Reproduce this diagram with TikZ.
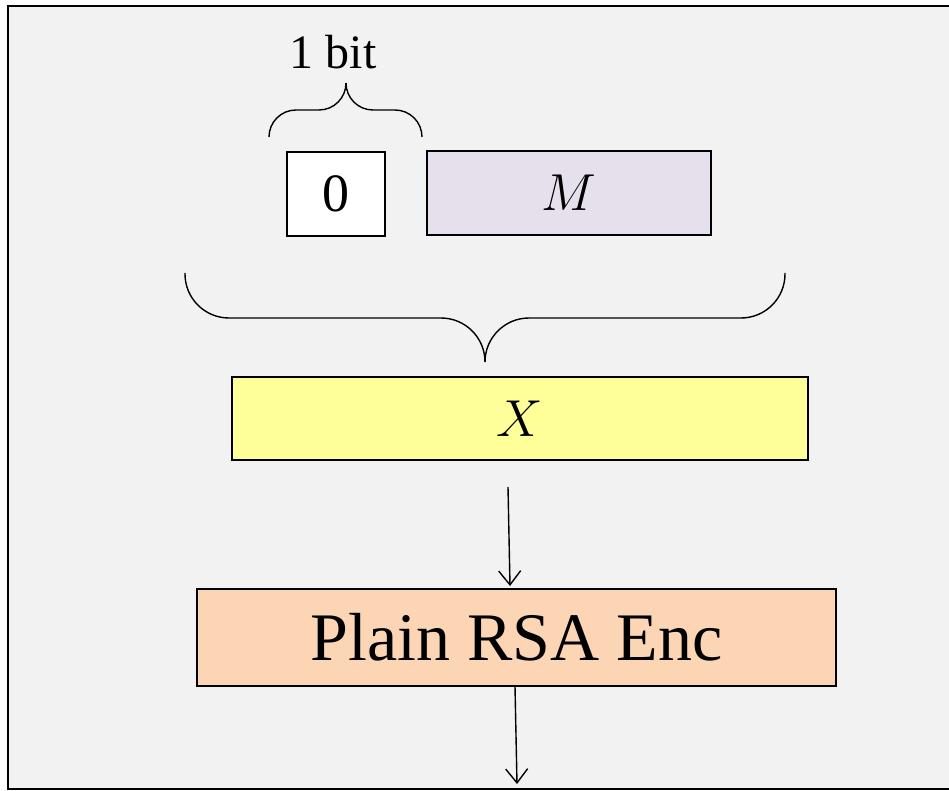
\documentclass[tikz,border=0pt]{standalone}
\usepackage{fix-cm}
\usepackage{fontspec}
\setmainfont{Liberation Serif}
\usepackage{tikz}
\usetikzlibrary{arrows.meta, positioning, calc}

\definecolor{bgpanel}{HTML}{F2F2F2}
\definecolor{msgfill}{HTML}{E6E0EC}
\definecolor{padfill}{HTML}{FFFF99}
\definecolor{encfill}{HTML}{FCD5B5}

\begin{document}
\begin{tikzpicture}[
            x=1pt, y=-1pt,
            block/.style={rectangle, draw=black, line width=1.4pt, inner sep=0pt},
            brace/.style={draw=black, line width=1.4pt},
            arrow/.style={-{Straight Barb[length=14pt, width=22pt]}, line width=1.4pt}
        ]
            \useasboundingbox (0,0) rectangle (949,791);
            \draw[fill=bgpanel, line width=1.8pt] (8,6) rectangle (970,789);

% Inputs
            \node[block, fill=white, minimum width=98pt, minimum height=84pt, font=\fontsize{54}{60}\selectfont] (zero) at (336,194) {0};
            \node[block, fill=msgfill, minimum width=284pt, minimum height=84pt, font=\fontsize{52}{60}\selectfont] (msg) at (569,193) {$M$};
            \node[font=\fontsize{48}{54}\selectfont] (bitlabel) at (333,52) {1 bit};

% Braces
            \draw[brace, rounded corners=27pt] (269,137) |- (346,110) -- (346,83);
            \draw[brace, rounded corners=27pt] (422,137) |- (346,110) -- (346,83);
            \draw[brace, rounded corners=44pt] (185,273) |- (485,318) -- (485,362);
            \draw[brace, rounded corners=44pt] (785,273) |- (485,318) -- (485,362);

% Padded message and encryption
            \node[block, fill=padfill, minimum width=576pt, minimum height=83pt, font=\fontsize{52}{60}\selectfont] (padded) at (520,418.5) {$X$};
            \node[block, fill=encfill, minimum width=639pt, minimum height=97pt, font=\fontsize{68}{76}\selectfont] (enc) at (516.5,637.5) {Plain RSA Enc};

            \coordinate (xout) at (508,487);
            \coordinate (encin) at (510,586);
            \coordinate (cout) at (517,784);

            \draw[arrow] (xout) -- (encin);
            \draw[arrow] (enc.south -| 515,0) -- (cout);

        \end{tikzpicture}
\end{document}
